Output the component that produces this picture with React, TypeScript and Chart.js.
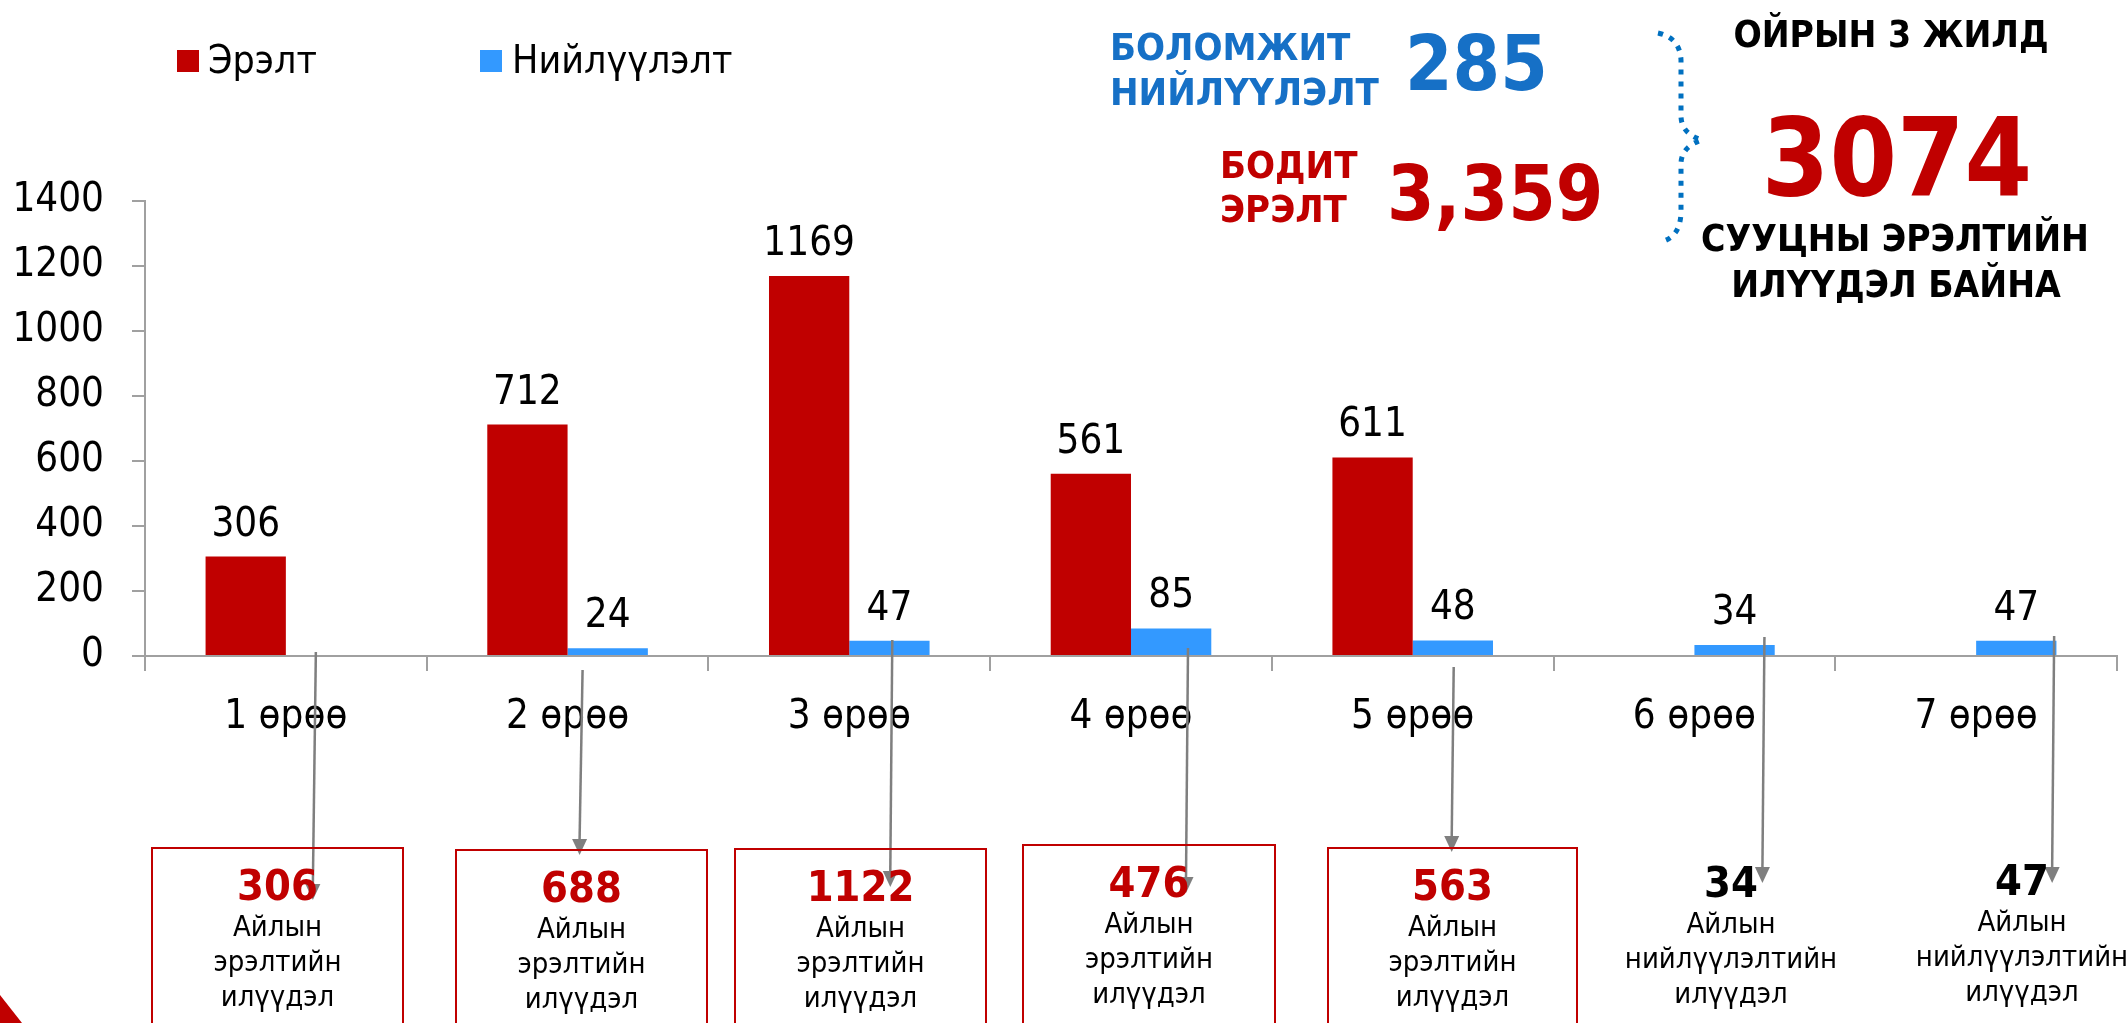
import React, { useEffect, useRef } from "react";
import { Chart, registerables } from "chart.js";

Chart.register(...registerables);

// ---- data ----
const categories = ["1 өрөө", "2 өрөө", "3 өрөө", "4 өрөө", "5 өрөө", "6 өрөө", "7 өрөө"];
const demand = [306, 712, 1169, 561, 611, null, null];
const supply = [null, 24, 47, 85, 48, 34, 47];
const seriesNames = ["Эрэлт", "Нийлүүлэлт"];
const yTicksMax = 1400;
const yTickStep = 200;

// ---- annotation text ----
const excessValues = ["306", "688", "1122", "476", "563", "34", "47"];
const excessKinds = ["эрэлтийн", "эрэлтийн", "эрэлтийн", "эрэлтийн", "эрэлтийн", "нийлүүлэлтийн", "нийлүүлэлтийн"];
const excessIsDemand = [true, true, true, true, true, false, false];

const FONT = '"DejaVu Sans Condensed", "DejaVu Sans"';
const RED = "#C00000";
const BLUE = "#3399FF";
const TEXT_BLUE = "#1670C6";
const GRAY = "#A0A0A0";

// annotation layout (box geometry and arrows)
const boxLayout = [
  { left: 151, top: 847, width: 253, border: true },
  { left: 455, top: 849, width: 253, border: true },
  { left: 734, top: 848, width: 253, border: true },
  { left: 1022, top: 844, width: 254, border: true },
  { left: 1327, top: 847, width: 251, border: true },
  { left: 1605, top: 844, width: 252, border: false },
  { left: 1896, top: 842, width: 252, border: false },
];
const arrowLayout = [
  { dx0: 30, y0: 652, dx1: 27, y1: 900 },
  { dx0: 15, y0: 670, dx1: 12, y1: 855 },
  { dx0: 43, y0: 640, dx1: 41, y1: 887 },
  { dx0: 57, y0: 648, dx1: 55, y1: 893 },
  { dx0: 41, y0: 667, dx1: 39, y1: 852 },
  { dx0: 70, y0: 637, dx1: 68, y1: 883 },
  { dx0: 78, y0: 636, dx1: 76, y1: 883 },
];

const valueLabels = {
  id: "valueLabels",
  afterDatasetsDraw(chart: any) {
    const ctx = chart.ctx;
    ctx.save();
    ctx.font = `40px ${FONT}`;
    ctx.fillStyle = "#000";
    ctx.textAlign = "center";
    ctx.textBaseline = "alphabetic";
    chart.data.datasets.forEach((ds: any, i: number) => {
      chart.getDatasetMeta(i).data.forEach((el: any, j: number) => {
        const v = ds.data[j];
        if (v === null || v === undefined) return;
        ctx.fillText(String(v), el.x, el.y - 21);
      });
    });
    ctx.restore();
  },
};

const arrowsPlugin = {
  id: "arrows",
  afterDraw(chart: any) {
    const ctx = chart.ctx;
    const xs = chart.scales.x;
    ctx.save();
    ctx.strokeStyle = "#7F7F7F";
    ctx.fillStyle = "#7F7F7F";
    ctx.lineWidth = 2.5;
    arrowLayout.forEach((a, i) => {
      const c = xs.getPixelForValue(i);
      const x0 = c + a.dx0;
      const x1 = c + a.dx1;
      const headL = 16;
      const headW = 7.5;
      ctx.beginPath();
      ctx.moveTo(x0, a.y0);
      ctx.lineTo(x1, a.y1 - headL + 1);
      ctx.stroke();
      ctx.beginPath();
      ctx.moveTo(x1, a.y1);
      ctx.lineTo(x1 - headW, a.y1 - headL);
      ctx.lineTo(x1 + headW, a.y1 - headL);
      ctx.closePath();
      ctx.fill();
    });
    ctx.restore();
  },
};

function Txt(props: any) {
  const { x, y, size, color = "#000", bold = false, align = "left", children } = props;
  const style: any = {
    position: "absolute",
    top: y - 0.846 * size,
    left: x,
    lineHeight: size + "px",
    height: size,
    fontSize: size,
    fontFamily: FONT,
    fontWeight: bold ? 700 : 400,
    color,
    whiteSpace: "nowrap",
  };
  if (align === "center") style.transform = "translateX(-50%)";
  return <div style={style}>{children}</div>;
}

export default function App() {
  const canvasRef = useRef<HTMLCanvasElement>(null);

  useEffect(() => {
    const canvas = canvasRef.current;
    if (!canvas) return;
    const chart = new Chart(canvas, {
      type: "bar",
      data: {
        labels: categories,
        datasets: [
          {
            label: seriesNames[0],
            data: demand,
            backgroundColor: RED,
            categoryPercentage: 0.57,
            barPercentage: 1,
          },
          {
            label: seriesNames[1],
            data: supply,
            backgroundColor: BLUE,
            categoryPercentage: 0.57,
            barPercentage: 1,
          },
        ],
      },
      options: {
        responsive: false,
        animation: false,
        devicePixelRatio: 1,
        layout: { padding: { top: 201, right: 11, left: 0, bottom: 0 } },
        plugins: { legend: { display: false }, tooltip: { enabled: false } },
        scales: {
          x: {
            grid: {
              drawOnChartArea: false,
              drawTicks: true,
              tickLength: 15,
              color: GRAY,
              lineWidth: 2,
              offset: true,
            },
            border: { color: GRAY, width: 2 },
            ticks: { font: { family: FONT, size: 40 }, color: "#000", padding: 23, maxRotation: 0 },
            afterFit: (s: any) => {
              s.height = 367;
            },
          },
          y: {
            min: 0,
            max: yTicksMax,
            ticks: {
              stepSize: yTickStep,
              font: { family: FONT, size: 40 },
              color: "#000",
              padding: 28,
              callback: (v: any) => String(v),
            },
            grid: { drawOnChartArea: false, tickLength: 13, color: GRAY, lineWidth: 2 },
            border: { color: GRAY, width: 2 },
            afterFit: (s: any) => {
              s.width = 145;
            },
          },
        },
      },
      plugins: [valueLabels, arrowsPlugin],
    } as any);
    return () => chart.destroy();
  }, []);

  return (
    <div
      style={{
        position: "absolute",
        left: 0,
        top: 0,
        width: 2128,
        height: 1023,
        overflow: "hidden",
        background: "#fff",
      }}
    >
      <canvas ref={canvasRef} width={2128} height={1023} style={{ position: "absolute", left: 0, top: 0 }} />

      {/* legend */}
      <div style={{ position: "absolute", left: 177, top: 50, width: 22, height: 22, background: RED }} />
      <Txt x={208} y={73} size={39}>{seriesNames[0]}</Txt>
      <div style={{ position: "absolute", left: 480, top: 50, width: 22, height: 22, background: BLUE }} />
      <Txt x={512} y={73} size={39}>{seriesNames[1]}</Txt>

      {/* top annotations */}
      <Txt x={1110} y={60} size={38} bold color={TEXT_BLUE}>БОЛОМЖИТ</Txt>
      <Txt x={1110} y={105} size={38} bold color={TEXT_BLUE}>НИЙЛҮҮЛЭЛТ</Txt>
      <Txt x={1405} y={90} size={76} bold color={TEXT_BLUE}>285</Txt>
      <Txt x={1220} y={178} size={38} bold color={RED}>БОДИТ</Txt>
      <Txt x={1220} y={222} size={38} bold color={RED}>ЭРЭЛТ</Txt>
      <Txt x={1387} y={220} size={76} bold color={RED}>3,359</Txt>

      <svg width={2128} height={1023} style={{ position: "absolute", left: 0, top: 0 }}>
        <path
          d="M1658,33 Q1680,38 1681,60 L1681,117 Q1682,134 1702,140 Q1682,146 1681,163 L1681,213 Q1680,238 1660,242"
          fill="none"
          stroke="#0070C0"
          strokeWidth={5}
          strokeDasharray="5 7"
        />
        <polygon points="0,995 22,1023 0,1023" fill={RED} />
      </svg>

      <Txt x={1891} y={47} size={37} bold align="center">ОЙРЫН 3 ЖИЛД</Txt>
      <Txt x={1897} y={195} size={108} bold color={RED} align="center">3074</Txt>
      <Txt x={1895} y={251} size={37} bold align="center">СУУЦНЫ ЭРЭЛТИЙН</Txt>
      <Txt x={1896} y={297} size={37} bold align="center">ИЛҮҮДЭЛ БАЙНА</Txt>

      {/* bottom boxes */}
      {boxLayout.map((b, i) => (
        <React.Fragment key={i}>
          {b.border && (
            <div
              style={{
                position: "absolute",
                left: b.left,
                top: b.top,
                width: b.width,
                height: 300,
                border: `2px solid ${RED}`,
                boxSizing: "border-box",
              }}
            />
          )}
          <Txt x={b.left + b.width / 2} y={b.top + 53} size={43} bold color={excessIsDemand[i] ? RED : "#000"} align="center">
            {excessValues[i]}
          </Txt>
          <Txt x={b.left + b.width / 2} y={b.top + 90} size={29} align="center">Айлын</Txt>
          <Txt x={b.left + b.width / 2} y={b.top + 125} size={29} align="center">{excessKinds[i]}</Txt>
          <Txt x={b.left + b.width / 2} y={b.top + 160} size={29} align="center">илүүдэл</Txt>
        </React.Fragment>
      ))}
    </div>
  );
}
